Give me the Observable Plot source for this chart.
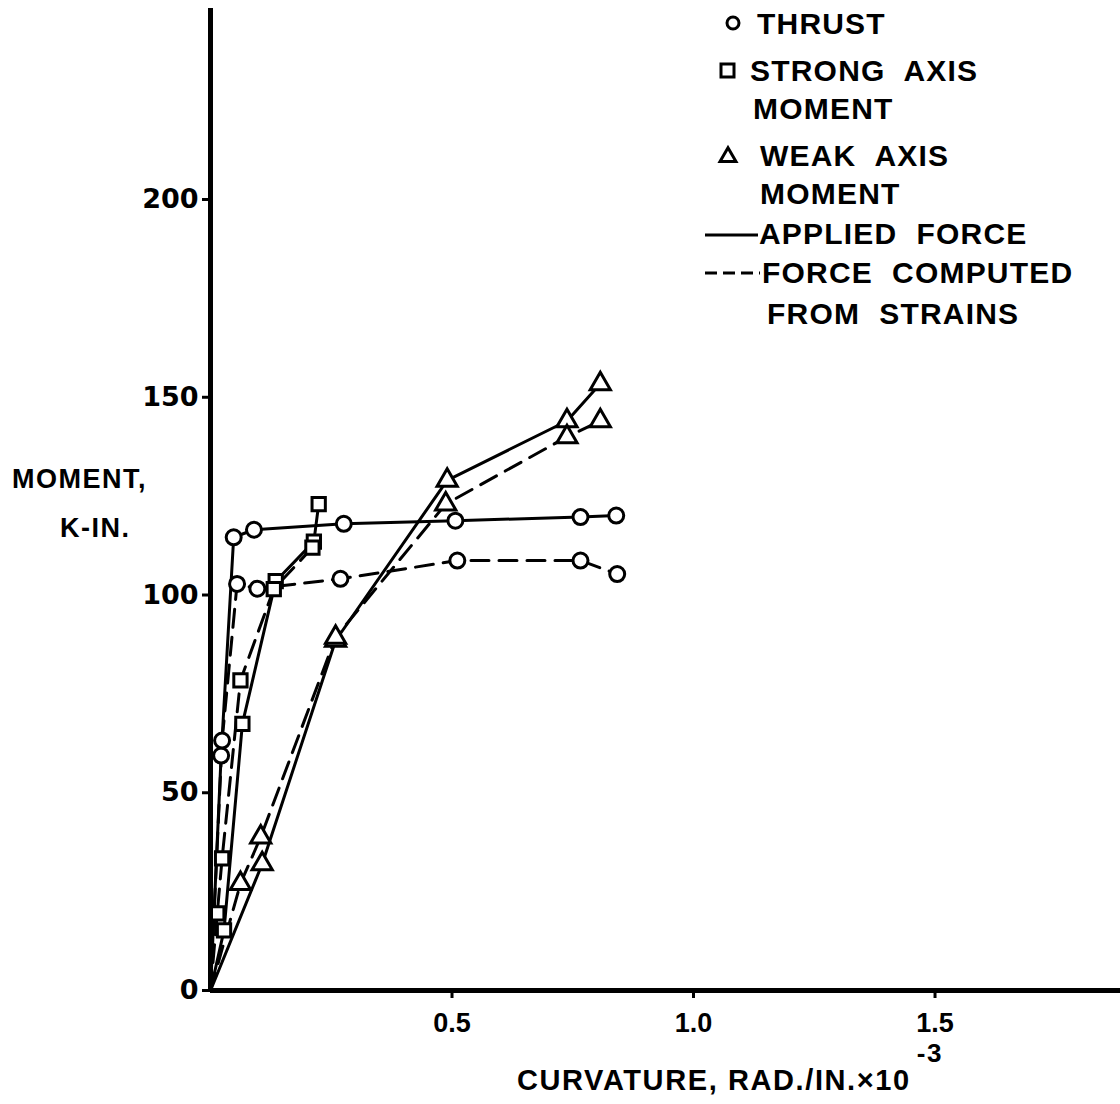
<!DOCTYPE html>
<html><head><meta charset="utf-8">
<script src="https://cdn.jsdelivr.net/npm/d3@7"></script>
<script src="https://cdn.jsdelivr.net/npm/@observablehq/plot@0.6"></script>
<style>body{margin:0;background:#fff} svg{display:block}</style>
</head><body><div id="chart"></div>
<script>
// Curvature (rad/in x 10^-3) and moment / thrust (k-in)
const thrustAppliedX = [0, 0.022, 0.048, 0.090, 0.276, 0.507, 0.766, 0.840];
const thrustAppliedY = [0, 59.4, 114.6, 116.5, 118.0, 118.8, 119.7, 120.1];
const thrustComputedX = [0, 0.024, 0.055, 0.097, 0.269, 0.511, 0.766, 0.842];
const thrustComputedY = [0, 63.2, 102.8, 101.6, 104.1, 108.7, 108.7, 105.3];
const strongAppliedX = [0, 0.028, 0.066, 0.135, 0.214, 0.224];
const strongAppliedY = [0, 15.2, 67.4, 103.5, 113.5, 123.0];
const strongComputedX = [0, 0.014, 0.024, 0.062, 0.131, 0.211];
const strongComputedY = [0, 19.5, 33.4, 78.4, 101.5, 112.0];
const weakAppliedX = [0, 0.107, 0.259, 0.490, 0.738, 0.807];
const weakAppliedY = [0, 32.0, 88.5, 129.0, 144.0, 153.4];
const weakComputedX = [0, 0.062, 0.104, 0.259, 0.487, 0.738, 0.807];
const weakComputedY = [0, 27.0, 38.8, 89.3, 123.0, 140.0, 144.0];

const xTicks = [0.5, 1.0, 1.5];
const yTicks = [0, 50, 100, 150, 200];
const xLabel = "CURVATURE, RAD./IN.×10";
const xLabelExp = "-3";
const yLabelLines = ["MOMENT,", "K-IN."];
const legendLabels = [
  ["THRUST"],
  ["STRONG  AXIS", "MOMENT"],
  ["WEAK  AXIS", "MOMENT"],
  ["APPLIED  FORCE"],
  ["FORCE  COMPUTED", "FROM  STRAINS"]
];

const series = [
  {key: "thrust-applied", x: thrustAppliedX, y: thrustAppliedY, symbol: "circle", dashed: false},
  {key: "thrust-computed", x: thrustComputedX, y: thrustComputedY, symbol: "circle", dashed: true},
  {key: "strong-applied", x: strongAppliedX, y: strongAppliedY, symbol: "square", dashed: false},
  {key: "strong-computed", x: strongComputedX, y: strongComputedY, symbol: "square", dashed: true},
  {key: "weak-applied", x: weakAppliedX, y: weakAppliedY, symbol: "triangle", dashed: false},
  {key: "weak-computed", x: weakComputedX, y: weakComputedY, symbol: "triangle", dashed: true}
];
const rows = series.flatMap(s => s.x.map((x, i) => ({series: s.key, x, y: s.y[i], symbol: s.symbol, dashed: s.dashed})));

const W = 1120, H = 1104;
const plot = Plot.plot({
  width: W, height: H,
  marginLeft: 210, marginRight: 0, marginTop: 8, marginBottom: 114,
  x: {domain: [0, 1.884]},
  y: {domain: [0, 248.3]},
  symbol: {domain: ["circle", "square", "triangle"], range: ["circle", "square", "triangle"]},
  style: {fontFamily: "'DejaVu Sans', sans-serif", fontSize: "26px", fontWeight: "bold", background: "#fff", color: "#000"},
  marks: [
    Plot.line(rows.filter(d => !d.dashed), {x: "x", y: "y", z: "series", stroke: "black", strokeWidth: 3}),
    Plot.line(rows.filter(d => d.dashed), {x: "x", y: "y", z: "series", stroke: "black", strokeWidth: 3, strokeDasharray: "18,10"}),
    Plot.dot(rows.filter(d => d.x > 0), {x: "x", y: "y", symbol: "symbol", r: 7.5, fill: "white", stroke: "black", strokeWidth: 3}),
    Plot.ruleX([0], {stroke: "black", strokeWidth: 5}),
    Plot.ruleY([0], {stroke: "black", strokeWidth: 5}),
    Plot.axisY({ticks: yTicks, tickSize: 8, tickPadding: 4, strokeWidth: 3, label: null, fontSize: 27, fontWeight: "bold", fontFamily: "'DejaVu Sans', sans-serif"}),
    Plot.axisX({ticks: xTicks, tickSize: 8, tickPadding: 14, strokeWidth: 3, tickFormat: d3.format(".1f"), label: null, fontSize: 27, fontWeight: "bold", fontFamily: "'Liberation Sans', Arial, sans-serif"})
  ]
});
document.getElementById("chart").appendChild(plot);

const svg = d3.select(plot);
const lab = svg.append("g")
  .attr("font-family", "'Liberation Sans', Arial, sans-serif")
  .attr("font-weight", "bold")
  .attr("text-anchor", "start")
  .attr("fill", "black")
  .style("white-space", "pre");

// x-axis label with exponent
const xt = lab.append("text").attr("x", 517).attr("y", 1090).attr("font-size", 29).attr("letter-spacing", 1.6);
xt.append("tspan").text(xLabel);
xt.append("tspan").attr("dy", -28).attr("dx", 6).attr("font-size", 26).text(xLabelExp);

// y-axis label
lab.append("text").attr("x", 12).attr("y", 488).attr("font-size", 27).attr("letter-spacing", 1.5).text(yLabelLines[0]);
lab.append("text").attr("x", 60).attr("y", 537).attr("font-size", 27).attr("letter-spacing", 1.5).text(yLabelLines[1]);

// legend
const lg = lab.append("g").attr("font-size", 30).attr("letter-spacing", 1.2);
const lines = [
  {t: legendLabels[0][0], x: 757, y: 34},
  {t: legendLabels[1][0], x: 750, y: 81},
  {t: legendLabels[1][1], x: 753, y: 119},
  {t: legendLabels[2][0], x: 760, y: 166},
  {t: legendLabels[2][1], x: 760, y: 204},
  {t: legendLabels[3][0], x: 759, y: 244},
  {t: legendLabels[4][0], x: 762, y: 283},
  {t: legendLabels[4][1], x: 767, y: 324}
];
lines.forEach(l => lg.append("text").attr("x", l.x).attr("y", l.y).text(l.t));
const sym = lab.append("g").attr("fill", "white").attr("stroke", "black").attr("stroke-width", 3);
sym.append("circle").attr("cx", 733).attr("cy", 23).attr("r", 6);
sym.append("rect").attr("x", 721).attr("y", 64).attr("width", 13).attr("height", 13);
sym.append("path").attr("d", d3.symbol(d3.symbolTriangle, 110)()).attr("transform", "translate(728,157)");
lab.append("line").attr("x1", 705).attr("x2", 758).attr("y1", 235).attr("y2", 235).attr("stroke", "black").attr("stroke-width", 3);
lab.append("line").attr("x1", 705).attr("x2", 760).attr("y1", 273).attr("y2", 273).attr("stroke", "black").attr("stroke-width", 3).attr("stroke-dasharray", "12,6");
</script>
</body></html>
